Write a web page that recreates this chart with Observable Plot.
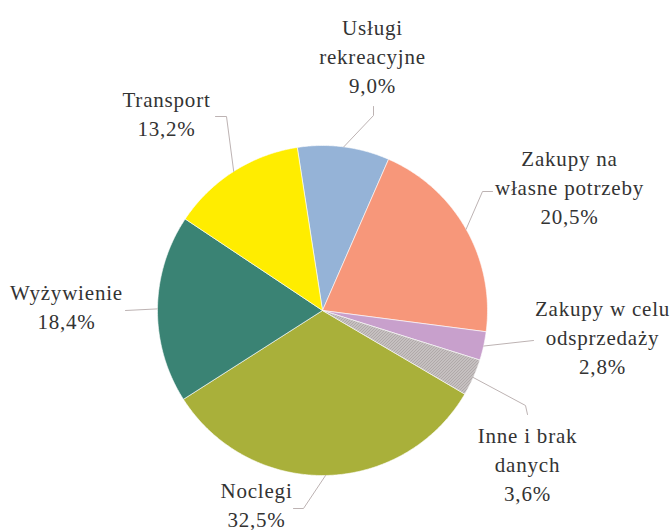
<!DOCTYPE html>
<html>
<head>
<meta charset="utf-8">
<script src="https://cdn.jsdelivr.net/npm/d3@7"></script>
<script src="https://cdn.jsdelivr.net/npm/@observablehq/plot@0.6"></script>
<style>
  html, body { margin: 0; padding: 0; background: #fff; }
  svg text { font-family: "Liberation Serif", serif !important; letter-spacing: 0.8px; }
</style>
</head>
<body>
<div id="chart"></div>
<script>
// ---- data ----
const categories = ["Usługi rekreacyjne", "Zakupy na własne potrzeby", "Zakupy w celu odsprzedaży", "Inne i brak danych", "Noclegi", "Wyżywienie", "Transport"];
const values = [9.0, 20.5, 2.8, 3.6, 32.5, 18.4, 13.2];
const labelLines = [
  ["Usługi", "rekreacyjne"],
  ["Zakupy na", "własne potrzeby"],
  ["Zakupy w celu", "odsprzedaży"],
  ["Inne i brak", "danych"],
  ["Noclegi"],
  ["Wyżywienie"],
  ["Transport"]
];
const colors = ["#95B3D7", "#F7977A", "#C8A0CC", "url(#hatch)", "#A9B03A", "#3A8374", "#FFED00"];

// ---- layout (pixels relative to pie centre) ----
const R = 165;
const startDeg = -8.8;
const lineStep = 29;
const labelPos = [ // [x of centre, baseline of last line]
  [50, -218], [247, -87], [280, 63], [205, 190], [-66, 216], [-256, 18], [-156, -175]
];
const leaderPts = [ // elbow / end points after the edge point
  [[51, -195], [51, -204]],
  [[160, -119], [170, -119]],
  [[211, 30]],
  [[203, 95], [205, 104]],
  [[-19, 198], [-29, 198]],
  [[-197, 0]],
  [[-96, -194], [-107, -194]]
];

const fmt = v => v.toFixed(1).replace(".", ",") + "%";

const arcs = d3.pie().sort(null).startAngle(startDeg * Math.PI / 180)
  .endAngle(startDeg * Math.PI / 180 + 2 * Math.PI)(values);

const slicePts = [];
arcs.forEach((a, i) => {
  slicePts.push({cat: categories[i], x: 0, y: 0, color: colors[i]});
  const n = Math.max(4, Math.ceil((a.endAngle - a.startAngle) / 0.01));
  for (let k = 0; k <= n; k++) {
    const t = a.startAngle + (a.endAngle - a.startAngle) * k / n;
    slicePts.push({cat: categories[i], x: R * Math.sin(t), y: -R * Math.cos(t), color: colors[i]});
  }
  slicePts.push({cat: categories[i], x: 0, y: 0, color: colors[i]});
});
const solid = slicePts.filter(d => !d.color.startsWith("url"));
const hatched = slicePts.filter(d => d.color.startsWith("url"));

const leaders = [];
arcs.forEach((a, i) => {
  const m = (a.startAngle + a.endAngle) / 2;
  leaders.push({cat: categories[i], x: R * Math.sin(m), y: -R * Math.cos(m)});
  leaderPts[i].forEach(p => leaders.push({cat: categories[i], x: p[0], y: p[1]}));
});

const labels = [];
categories.forEach((c, i) => {
  const lines = [...labelLines[i], fmt(values[i])];
  lines.forEach((t, k) => labels.push({
    text: t, x: labelPos[i][0], y: labelPos[i][1] - (lines.length - 1 - k) * lineStep
  }));
});

const chart = Plot.plot({
  width: 670, height: 530,
  margin: 0,
  x: {domain: [-322, 348], range: [0, 670], axis: null},
  y: {domain: [-310, 220], range: [0, 530], axis: null},
  style: {background: "#fff", fontFamily: "Liberation Serif"},
  marks: [
    Plot.line(solid, {x: "x", y: "y", z: "cat", fill: "color", stroke: "white", strokeWidth: 0.6, curve: "linear"}),
    Plot.line(hatched, {x: "x", y: "y", z: "cat", fill: "url(#hatch)", stroke: "white", strokeWidth: 0.6, curve: "linear"}),
    Plot.line(leaders, {x: "x", y: "y", z: "cat", stroke: "#BDB3B3", strokeWidth: 1}),
    Plot.text(labels, {x: "x", y: "y", text: "text", lineAnchor: "bottom", textAnchor: "middle",
      fontSize: 21, fill: "#333", fontFamily: "Liberation Serif"})
  ]
});

const ns = "http://www.w3.org/2000/svg";
const defs = document.createElementNS(ns, "defs");
defs.innerHTML = `<pattern id="hatch" patternUnits="userSpaceOnUse" width="3" height="3">
  <rect width="3" height="3" fill="#fff"/>
  <path d="M-1,1 L1,-1 M0,3 L3,0 M2,4 L4,2" stroke="#7F7474" stroke-width="1.1"/>
</pattern>`;
chart.insertBefore(defs, chart.firstChild);
document.getElementById("chart").appendChild(chart);
</script>
</body>
</html>
